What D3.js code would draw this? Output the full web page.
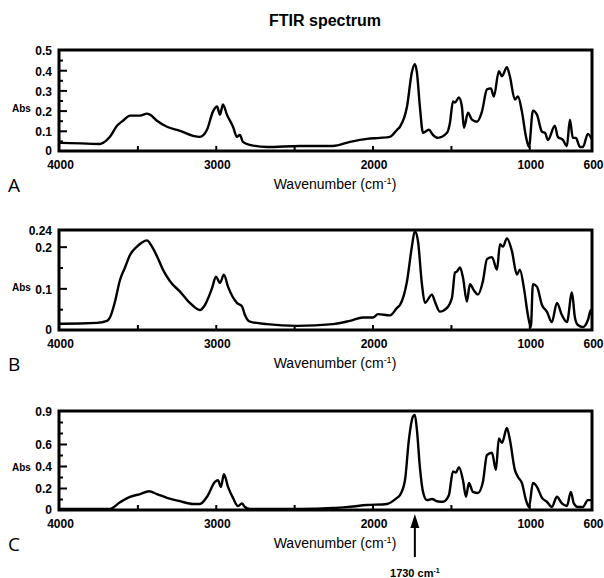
<!DOCTYPE html>
<html>
<head>
<meta charset="utf-8">
<script src="https://cdn.jsdelivr.net/npm/d3@7"></script>
<style>
  body { margin: 0; background: #fff; }
  svg { display: block; }
</style>
</head>
<body>
<div id="chart"></div>
<script>
// spectra: [wavenumber, absorbance]
var spectrumA = [[4000,0.04],[3981,0.04],[3739,0.035],[3719,0.04],[3675,0.07],[3630,0.125],[3592,0.15],[3547,0.175],[3483,0.175],[3439,0.185],[3420,0.18],[3375,0.15],[3311,0.12],[3228,0.10],[3145,0.075],[3101,0.07],[3056,0.105],[3018,0.195],[2992,0.22],[2973,0.18],[2954,0.23],[2929,0.18],[2890,0.12],[2865,0.07],[2846,0.08],[2827,0.045],[2782,0.03],[2673,0.02],[2463,0.025],[2253,0.025],[2144,0.045],[2036,0.06],[1953,0.065],[1889,0.07],[1844,0.105],[1825,0.12],[1780,0.22],[1749,0.39],[1730,0.43],[1717,0.39],[1698,0.22],[1678,0.09],[1640,0.105],[1615,0.08],[1583,0.065],[1525,0.09],[1506,0.14],[1487,0.245],[1474,0.24],[1449,0.265],[1430,0.22],[1417,0.115],[1391,0.19],[1366,0.155],[1334,0.145],[1302,0.195],[1270,0.305],[1245,0.31],[1226,0.27],[1194,0.395],[1174,0.37],[1143,0.415],[1124,0.37],[1092,0.255],[1072,0.27],[1047,0.195],[1021,0.07],[1002,0.02],[977,0.2],[951,0.18],[919,0.095],[900,0.09],[881,0.055],[837,0.125],[818,0.07],[786,0.055],[760,0.025],[741,0.155],[722,0.065],[703,0.065],[677,0.02],[658,0.02],[626,0.085],[600,0.055]];

var spectrumB = [[4000,0.015],[3974,0.015],[3758,0.017],[3694,0.022],[3675,0.03],[3643,0.068],[3611,0.12],[3579,0.15],[3547,0.18],[3503,0.2],[3471,0.21],[3439,0.215],[3407,0.2],[3375,0.177],[3337,0.145],[3292,0.117],[3228,0.092],[3165,0.065],[3101,0.048],[3069,0.06],[3024,0.1],[2999,0.128],[2973,0.113],[2948,0.133],[2922,0.104],[2865,0.065],[2833,0.057],[2814,0.036],[2782,0.02],[2673,0.014],[2482,0.01],[2252,0.014],[2144,0.022],[2061,0.03],[1997,0.03],[1965,0.038],[1889,0.035],[1844,0.053],[1825,0.06],[1780,0.117],[1749,0.2],[1730,0.237],[1710,0.213],[1685,0.11],[1666,0.065],[1621,0.085],[1602,0.068],[1570,0.044],[1525,0.053],[1493,0.078],[1474,0.138],[1462,0.14],[1442,0.15],[1423,0.126],[1398,0.068],[1379,0.11],[1353,0.095],[1328,0.085],[1296,0.117],[1270,0.17],[1238,0.175],[1206,0.145],[1187,0.206],[1168,0.2],[1143,0.22],[1111,0.19],[1079,0.133],[1060,0.145],[1034,0.1],[1009,0.036],[990,0.007],[977,0.11],[951,0.104],[919,0.06],[888,0.044],[856,0.019],[824,0.065],[792,0.036],[760,0.019],[728,0.09],[709,0.03],[690,0.012],[658,0.007],[626,0.024],[607,0.048],[600,0.036]];

var spectrumC = [[4000,0.01],[3974,0.01],[3675,0.01],[3611,0.07],[3547,0.12],[3483,0.145],[3426,0.17],[3375,0.145],[3311,0.11],[3228,0.08],[3145,0.055],[3101,0.055],[3056,0.12],[3005,0.255],[2986,0.27],[2967,0.21],[2948,0.325],[2922,0.21],[2890,0.11],[2858,0.036],[2833,0.06],[2814,0.027],[2782,0.01],[2463,0.01],[2252,0.018],[2144,0.03],[2036,0.045],[1908,0.055],[1844,0.11],[1825,0.135],[1793,0.27],[1768,0.64],[1742,0.85],[1730,0.865],[1717,0.73],[1698,0.39],[1678,0.165],[1653,0.09],[1621,0.1],[1589,0.08],[1551,0.075],[1513,0.135],[1487,0.35],[1468,0.34],[1449,0.39],[1423,0.27],[1404,0.12],[1385,0.245],[1360,0.165],[1328,0.155],[1296,0.255],[1270,0.5],[1238,0.52],[1213,0.365],[1194,0.65],[1174,0.61],[1143,0.745],[1124,0.64],[1092,0.365],[1072,0.3],[1047,0.245],[1021,0.09],[1002,0.027],[977,0.245],[951,0.21],[919,0.11],[888,0.075],[856,0.027],[824,0.12],[792,0.06],[760,0.036],[735,0.165],[716,0.06],[690,0.027],[658,0.027],[626,0.09],[600,0.09]];

// tick labels
var xTickLabels = [4000, 3000, 2000, 1000, 600];
var xMinorTicks = [3500, 3000, 2500, 2000, 1500, 1000];
var yLabelsA = [0, 0.1, 0.2, 0.3, 0.4, 0.5];
var yMinorA = [0.05, 0.15, 0.25, 0.35, 0.45];
var yLabelsB = [0, 0.1, 0.2, 0.24];
var yMinorB = [0.05, 0.15];
var yLabelsC = [0, 0.2, 0.4, 0.6, 0.9];
var yMinorC = [0.1, 0.3, 0.5, 0.7, 0.8];
var panelNames = ["A", "B", "C"];
var markerWn = 1730;

var width = 604, height = 578;
var left = 59, right = 592;

var svg = d3.select("#chart")
    .append("svg")
    .attr("width", width)
    .attr("height", height);

var x = d3.scaleLinear().domain([4000, 600]).range([left, right]);

var tickFont = "'Liberation Sans', Arial, sans-serif";

// title
svg.append("text")
    .attr("x", 325)
    .attr("y", 26)
    .attr("text-anchor", "middle")
    .style("font-family", tickFont)
    .style("font-weight", "bold")
    .style("font-size", "16px")
    .text("FTIR spectrum");

var panels = [
    { name: panelNames[0], data: spectrumA, top: 50, bottom: 151, max: 0.5, labels: yLabelsA, minor: yMinorA },
    { name: panelNames[1], data: spectrumB, top: 230, bottom: 330, max: 0.24, labels: yLabelsB, minor: yMinorB },
    { name: panelNames[2], data: spectrumC, top: 411, bottom: 510, max: 0.9, labels: yLabelsC, minor: yMinorC }
];

panels.forEach(function(p) {
    var y = d3.scaleLinear().domain([0, p.max]).range([p.bottom, p.top]);
    var g = svg.append("g");

    // spectrum line
    g.append("path")
        .datum(p.data)
        .attr("d", d3.line()
            .x(function(d) { return x(d[0]) })
            .y(function(d) { return y(d[1]) })
            .curve(d3.curveMonotoneX))
        .attr("fill", "none")
        .attr("stroke", "#000")
        .attr("stroke-width", 2.4)
        .attr("stroke-linejoin", "round");

    // y axis, labelled ticks (inward)
    var yAxis = g.append("g")
        .attr("transform", "translate(" + left + ",0)")
        .call(d3.axisLeft(y)
            .tickValues(p.labels)
            .tickSizeInner(-8)
            .tickSizeOuter(0)
            .tickPadding(7)
            .tickFormat(function(d) { return d === 0 ? "0" : String(d); }));
    yAxis.select(".domain").remove();
    yAxis.selectAll("line").attr("stroke-width", 2)
        .filter(function(d) { return d === 0 || d === p.max; }).remove();
    yAxis.selectAll("text")
        .style("font-family", tickFont)
        .style("font-weight", "bold")
        .style("font-size", "12px")
        .attr("dy", function(d) { return d === 0 ? "0.26em" : "0.4em"; });

    // y minor ticks
    var yMinor = g.append("g")
        .attr("transform", "translate(" + left + ",0)")
        .call(d3.axisLeft(y).tickValues(p.minor).tickSizeInner(-4).tickSizeOuter(0).tickFormat(""));
    yMinor.select(".domain").remove();
    yMinor.selectAll("line").attr("stroke-width", 2);

    // x axis labels
    var xAxis = g.append("g")
        .attr("transform", "translate(0," + p.bottom + ")")
        .call(d3.axisBottom(x).tickValues(xTickLabels).tickSize(0).tickPadding(9.5).tickFormat(d3.format("d")));
    xAxis.select(".domain").remove();
    xAxis.selectAll("text")
        .attr("dx", 1)
        .style("font-family", tickFont)
        .style("font-weight", "bold")
        .style("font-size", "12px");

    // x minor ticks (inward)
    var xMinor = g.append("g")
        .attr("transform", "translate(0," + p.bottom + ")")
        .call(d3.axisBottom(x).tickValues(xMinorTicks).tickSizeInner(-5).tickSizeOuter(0).tickFormat(""));
    xMinor.select(".domain").remove();
    xMinor.selectAll("line").attr("stroke-width", 2);

    // frame
    g.append("rect")
        .attr("x", left)
        .attr("y", p.top)
        .attr("width", right - left)
        .attr("height", p.bottom - p.top)
        .attr("fill", "none")
        .attr("stroke", "#000")
        .attr("stroke-width", 3);

    // Abs label
    g.append("text")
        .attr("x", 12)
        .attr("y", y(p.max * 0.42) + 3)
        .style("font-family", tickFont)
        .style("font-weight", "bold")
        .style("font-size", "10px")
        .text("Abs");

    // x title
    var xt = g.append("text")
        .attr("x", 335)
        .attr("y", p.bottom + 38)
        .attr("text-anchor", "middle")
        .style("font-family", tickFont)
        .style("font-size", "14px");
    xt.append("tspan").text("Wavenumber (cm");
    xt.append("tspan").attr("dy", -5).style("font-size", "9px").text("-1");
    xt.append("tspan").attr("dy", 5).text(")");

    // panel letter
    g.append("text")
        .attr("x", 8)
        .attr("y", p.bottom + 41)
        .style("font-family", "'Open Sans', sans-serif")
        .style("font-size", "19px")
        .text(p.name);
});

// arrow marking the carbonyl band
var ax = x(markerWn);
svg.append("line")
    .attr("x1", ax).attr("x2", ax)
    .attr("y1", 557).attr("y2", 524)
    .attr("stroke", "#000")
    .attr("stroke-width", 2);
svg.append("path")
    .attr("d", "M" + ax + ",514 L" + (ax - 4.5) + ",528 L" + (ax + 4.5) + ",528 Z")
    .attr("fill", "#000");

var at = svg.append("text")
    .attr("x", ax)
    .attr("y", 577)
    .attr("text-anchor", "middle")
    .style("font-family", tickFont)
    .style("font-weight", "bold")
    .style("font-size", "11px");
at.append("tspan").text(markerWn + " cm");
at.append("tspan").attr("dy", -4).style("font-size", "7px").text("-1");
</script>
</body>
</html>
